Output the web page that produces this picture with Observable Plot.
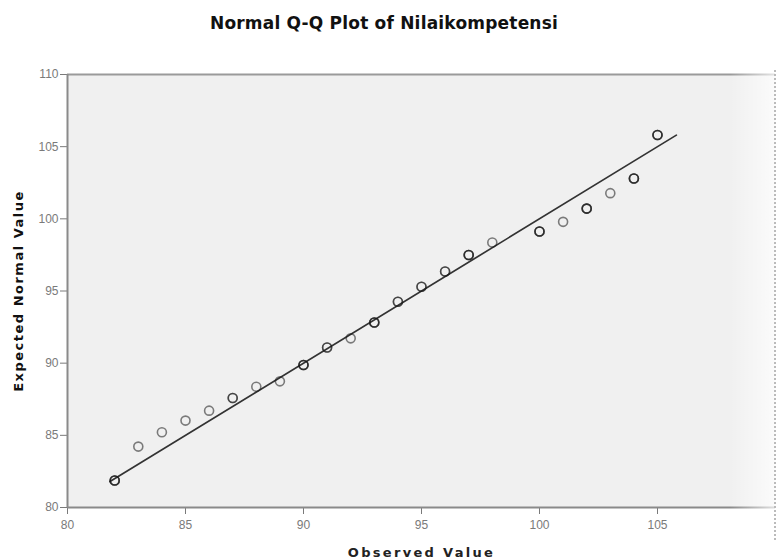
<!DOCTYPE html>
<html><head><meta charset="utf-8">
<script src="https://cdn.jsdelivr.net/npm/d3@7"></script>
<script src="https://cdn.jsdelivr.net/npm/@observablehq/plot@0.6"></script>
<style>
body{margin:0;background:#fff;font-family:"Liberation Sans",Arial,sans-serif;}
#wrap{position:relative;width:776px;height:560px;overflow:hidden;}
#title{position:absolute;left:0;top:14px;width:768px;text-align:center;font-family:"DejaVu Sans",sans-serif;font-weight:bold;font-size:17px;letter-spacing:0.2px;line-height:19px;color:#111;z-index:2}
#chart{position:absolute;left:0;top:0}
#fade{position:absolute;left:730px;top:70px;width:46px;height:440px;background:linear-gradient(to right, rgba(255,255,255,0), rgba(255,255,255,0.75));z-index:1}
#edge{position:absolute;left:774px;top:70px;width:0;height:470px;border-left:2px dotted #bbb;z-index:1}
</style>
</head><body>
<div id="wrap"><div id="title"></div><div id="chart"></div><div id="fade"></div><div id="edge"></div></div>
<script>
const titleText = "Normal Q-Q Plot of Nilaikompetensi";
const xLabel = "Observed Value";
const yLabel = "Expected Normal Value";
const xTicks = [80, 85, 90, 95, 100, 105];
const yTicks = [80, 85, 90, 95, 100, 105, 110];
const observed = [82, 83, 84, 85, 86, 87, 88, 89, 90, 91, 92, 93, 94, 95, 96, 97, 98, 100, 101, 102, 103, 104, 105];
const expected = [81.87, 84.22, 85.21, 86.02, 86.71, 87.59, 88.37, 88.74, 89.87, 91.09, 91.72, 92.82, 94.26, 95.29, 96.35, 97.49, 98.36, 99.12, 99.79, 100.71, 101.78, 102.79, 105.81];
const counts = [3, 1, 1, 1, 1, 2, 1, 1, 3, 2, 1, 3, 2, 2, 2, 3, 1, 3, 1, 3, 1, 3, 3];
const refLine = [81.8, 105.8];

document.getElementById("title").textContent = titleText;

const rows = [];
observed.forEach((o, i) => { for (let k = 0; k < counts[i]; k++) rows.push({x: o, y: expected[i]}); });
const lineData = refLine.map(v => ({x: v, y: v}));

const chart = Plot.plot({
  width: 776, height: 560,
  marginTop: 74, marginBottom: 53, marginLeft: 67, marginRight: 1,
  style: {fontFamily: "'Liberation Sans', Arial, sans-serif", fontSize: "12px", color: "#7a7a7a", background: "transparent", overflow: "visible"},
  x: {domain: [80, 110], ticks: xTicks, tickSize: 7, tickPadding: 6, label: null},
  y: {domain: [80, 110], ticks: yTicks, tickSize: 7, tickPadding: 2, label: null},
  marks: [
    Plot.frame({fill: "#f0f0f0", stroke: null}),
    Plot.ruleY([110], {stroke: "#9a9a9a", strokeWidth: 2}),
    Plot.ruleX([80], {stroke: "#8a8a8a", strokeWidth: 2}),
    Plot.ruleY([80], {stroke: "#8a8a8a", strokeWidth: 2}),
    Plot.line(lineData, {x: "x", y: "y", stroke: "#333", strokeWidth: 1.7}),
    Plot.dot(rows, {x: "x", y: "y", r: 4.5, stroke: "#1a1a1a", strokeWidth: 1.6, strokeOpacity: 0.55, fill: "none"}),
    Plot.text([yLabel], {frameAnchor: "left", textAnchor: "middle", dx: -49, rotate: -90, fontFamily: "DejaVu Sans", fontWeight: "bold", fontSize: 13, fill: "#111"}),
    Plot.text([xLabel], {frameAnchor: "bottom", dy: 49, fontFamily: "DejaVu Sans", fontWeight: "bold", fontSize: 13, fill: "#222"})
  ]
});
chart.querySelectorAll("text").forEach(t => {
  if (t.textContent === yLabel) t.setAttribute("letter-spacing", "1.5");
  if (t.textContent === xLabel) t.setAttribute("letter-spacing", "2.3");
});
document.getElementById("chart").appendChild(chart);
</script>
</body></html>
